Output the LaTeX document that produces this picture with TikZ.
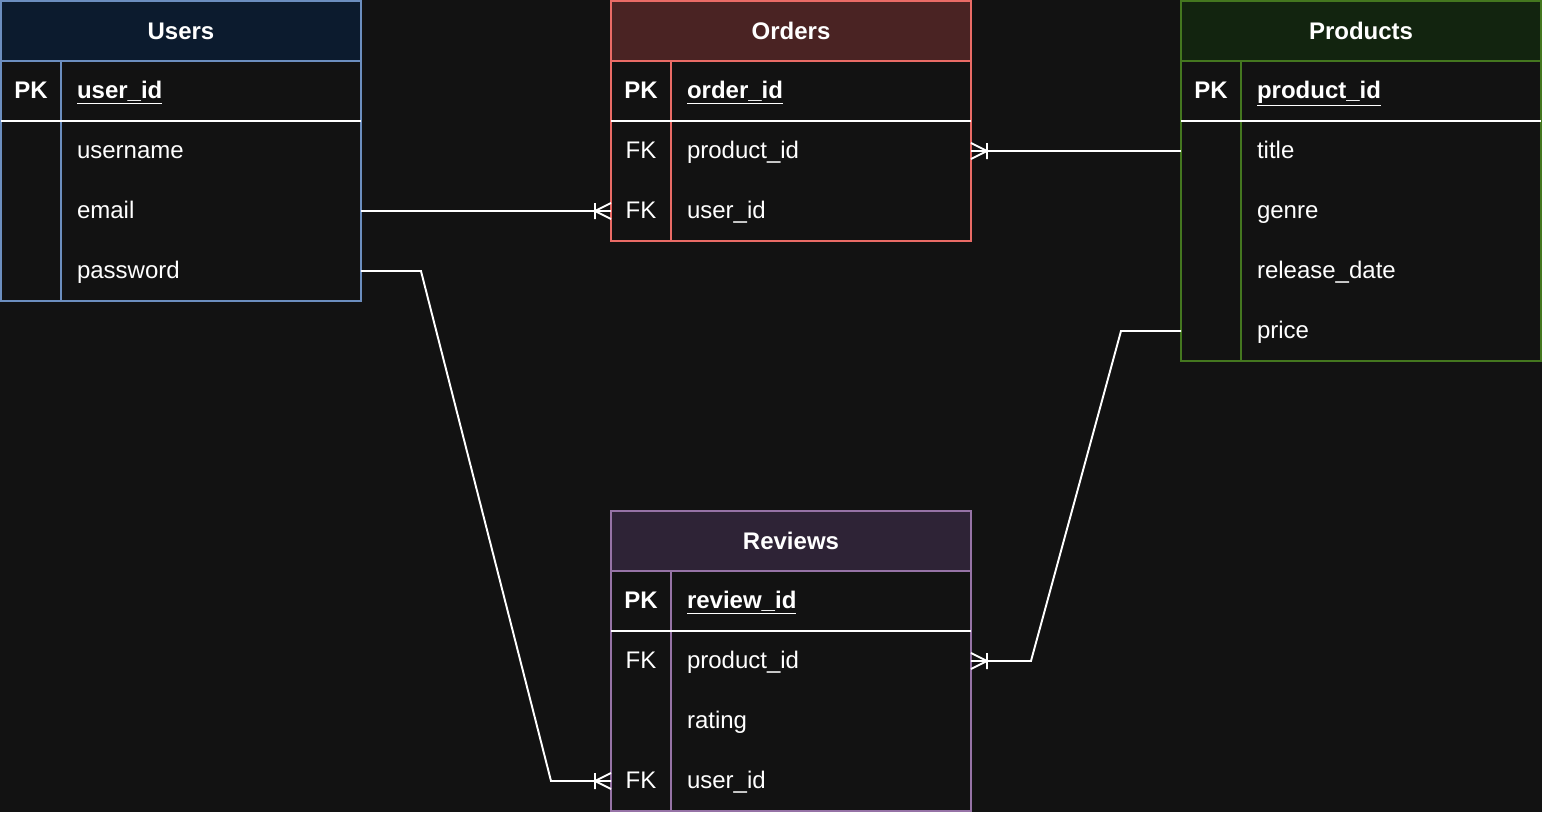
\documentclass[tikz,border=0pt]{standalone}
\usepackage{fontspec}
\setmainfont{Liberation Sans}
\usetikzlibrary{calc}
\definecolor{canvas}{HTML}{121212}
\definecolor{usersline}{HTML}{6C8EBF}
\definecolor{usershead}{HTML}{0C1B2E}
\definecolor{ordersline}{HTML}{EA6B66}
\definecolor{ordershead}{HTML}{4A2323}
\definecolor{productsline}{HTML}{44771F}
\definecolor{productshead}{HTML}{12240F}
\definecolor{reviewsline}{HTML}{9673A6}
\definecolor{reviewshead}{HTML}{2E2336}
\newcommand{\erfont}{\fontsize{13.66pt}{16pt}\selectfont}

\begin{document}
\begin{tikzpicture}[x=0.02cm,y=-0.02cm,line width=1.1pt]
    %
    % `head' is the title bar of a table, `keycell' the PK/FK column,
    % `fieldcell' the column names, `link' the relations.
    \tikzstyle{head} = [draw,minimum width=7.2cm,minimum height=1.2cm,inner sep=0pt,outer sep=0pt,text=white,font=\erfont\bfseries]
    \tikzstyle{keycell} = [minimum width=1.2cm,minimum height=1.2cm,inner sep=0pt,outer sep=0pt,text height=1.05em,text depth=0.21em,text=white,font=\erfont]
    \tikzstyle{fieldcell} = [minimum height=1.2cm,text width=5.36cm,inner xsep=0.32cm,inner ysep=0pt,outer sep=0pt,text height=1.05em,text depth=0.21em,align=left,text=white,font=\erfont]
    \tikzstyle{link} = [draw=white]
    \tikzset{crowfoot/.pic={\draw[white] (0,8) -- (16,0) -- (0,-8) (16,8) -- (16,-8);}}
    %
    % Background
    \fill[canvas] (0,0) rectangle (1542,812);
    \useasboundingbox (0,0) rectangle (1542,812);
    %
    % Users
    \node[head,draw=usersline,fill=usershead] (users) at (181,31) {Users};
    \node[keycell] (users-k1) at (31,91) {\textbf{PK}};
    \node[fieldcell] (users-f1) at (211,91) {\textbf{\underline{user\_id}}};
    \node[keycell] (users-k2) at (31,151) {};
    \node[fieldcell] (users-f2) at (211,151) {username};
    \node[keycell] (users-k3) at (31,211) {};
    \node[fieldcell] (users-f3) at (211,211) {email};
    \node[keycell] (users-k4) at (31,271) {};
    \node[fieldcell] (users-f4) at (211,271) {password};
    \draw[usersline] (users.south west) rectangle (users-f4.south east);
    \draw[usersline] (users-k1.north east) -- (users-k4.south east);
    \draw[white] (users-k1.south west) -- (users-f1.south east);
    %
    % Orders
    \node[head,draw=ordersline,fill=ordershead] (orders) at (791,31) {Orders};
    \node[keycell] (orders-k1) at (641,91) {\textbf{PK}};
    \node[fieldcell] (orders-f1) at (821,91) {\textbf{\underline{order\_id}}};
    \node[keycell] (orders-k2) at (641,151) {FK};
    \node[fieldcell] (orders-f2) at (821,151) {product\_id};
    \node[keycell] (orders-k3) at (641,211) {FK};
    \node[fieldcell] (orders-f3) at (821,211) {user\_id};
    \draw[ordersline] (orders.south west) rectangle (orders-f3.south east);
    \draw[ordersline] (orders-k1.north east) -- (orders-k3.south east);
    \draw[white] (orders-k1.south west) -- (orders-f1.south east);
    %
    % Products
    \node[head,draw=productsline,fill=productshead] (products) at (1361,31) {Products};
    \node[keycell] (products-k1) at (1211,91) {\textbf{PK}};
    \node[fieldcell] (products-f1) at (1391,91) {\textbf{\underline{product\_id}}};
    \node[keycell] (products-k2) at (1211,151) {};
    \node[fieldcell] (products-f2) at (1391,151) {title};
    \node[keycell] (products-k3) at (1211,211) {};
    \node[fieldcell] (products-f3) at (1391,211) {genre};
    \node[keycell] (products-k4) at (1211,271) {};
    \node[fieldcell] (products-f4) at (1391,271) {release\_date};
    \node[keycell] (products-k5) at (1211,331) {};
    \node[fieldcell] (products-f5) at (1391,331) {price};
    \draw[productsline] (products.south west) rectangle (products-f5.south east);
    \draw[productsline] (products-k1.north east) -- (products-k5.south east);
    \draw[white] (products-k1.south west) -- (products-f1.south east);
    %
    % Reviews
    \node[head,draw=reviewsline,fill=reviewshead] (reviews) at (791,541) {Reviews};
    \node[keycell] (reviews-k1) at (641,601) {\textbf{PK}};
    \node[fieldcell] (reviews-f1) at (821,601) {\textbf{\underline{review\_id}}};
    \node[keycell] (reviews-k2) at (641,661) {FK};
    \node[fieldcell] (reviews-f2) at (821,661) {product\_id};
    \node[keycell] (reviews-k3) at (641,721) {};
    \node[fieldcell] (reviews-f3) at (821,721) {rating};
    \node[keycell] (reviews-k4) at (641,781) {FK};
    \node[fieldcell] (reviews-f4) at (821,781) {user\_id};
    \draw[reviewsline] (reviews.south west) rectangle (reviews-f4.south east);
    \draw[reviewsline] (reviews-k1.north east) -- (reviews-k4.south east);
    \draw[white] (reviews-k1.south west) -- (reviews-f1.south east);
    %
    % Relations
    \draw[link] (users-f3.east) -- (orders-k3.west);
    \draw[link] (products-k2.west) -- (orders-f2.east);
    \draw[link] (users-f4.east) -- ++(60,0) -- ($(reviews-k4.west)+(-60,0)$) -- (reviews-k4.west);
    \draw[link] (products-k5.west) -- ++(-60,0) -- ($(reviews-f2.east)+(60,0)$) -- (reviews-f2.east);
    %
    % Crow's feet
    \pic[rotate=180] at (orders-k3.west) {crowfoot};
    \pic at (orders-f2.east) {crowfoot};
    \pic[rotate=180] at (reviews-k4.west) {crowfoot};
    \pic at (reviews-f2.east) {crowfoot};
    %
\end{tikzpicture}
\end{document}
